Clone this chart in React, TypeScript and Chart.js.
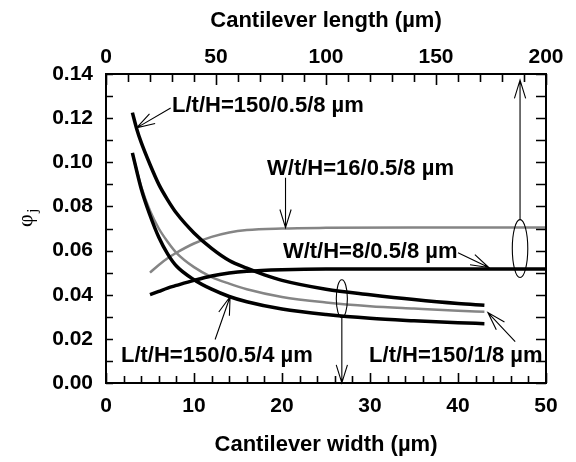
import React, { useEffect, useRef } from 'react';
import { Chart, registerables } from 'chart.js';
Chart.register(...registerables);

// ---- data (width axis, µm) ----
const widthA = [3, 3.5, 4, 5, 6, 7, 8, 10, 12, 14, 16, 18, 20, 25, 30, 35, 40, 43];
const phiA_150_05_8 = [0.1225, 0.115, 0.109, 0.099, 0.09, 0.083, 0.077, 0.068, 0.061, 0.0555, 0.052, 0.049, 0.0465, 0.0425, 0.04, 0.0378, 0.036, 0.0352];

const widthBC = [3, 4, 5, 6, 7, 8, 10, 12, 14, 16, 20, 25, 30, 35, 40, 43];
const phiB_150_05_4 = [0.1043, 0.088, 0.076, 0.066, 0.0585, 0.053, 0.0468, 0.0425, 0.0392, 0.0368, 0.0335, 0.031, 0.0293, 0.0282, 0.0273, 0.0269];
const phiC_150_1_8 = [0.104, 0.089, 0.078, 0.07, 0.064, 0.059, 0.0525, 0.048, 0.045, 0.0425, 0.039, 0.0365, 0.0348, 0.0337, 0.0327, 0.0323];

// ---- data (length axis, µm) ----
const lengthW = [20, 24, 28, 32, 40, 48, 56, 64, 80, 100, 140, 200];
const phiW16 = [0.05, 0.0535, 0.0565, 0.059, 0.0632, 0.0662, 0.0682, 0.0693, 0.07, 0.0703, 0.0705, 0.0705];
const phiW8 = [0.04, 0.0415, 0.043, 0.0442, 0.0465, 0.0485, 0.0498, 0.0506, 0.0513, 0.0516, 0.0516, 0.0516];

// ---- axes ----
const widthRange = [0, 50];
const lengthRange = [0, 200];
const phiRange = [0, 0.14];
const xTitle = 'Cantilever width (µm)';
const x2Title = 'Cantilever length (µm)';

// ---- annotations (in width / phi units) ----
const labelTexts = ['L/t/H=150/0.5/8 µm', 'W/t/H=16/0.5/8 µm', 'W/t/H=8/0.5/8 µm', 'L/t/H=150/0.5/4 µm', 'L/t/H=150/1/8 µm'];
const labelAnchors = [[7.5, 0.1229], [18.3, 0.0943], [20.1, 0.0568], [1.7, 0.0097], [29.9, 0.0097]];
const arrowLines = [
  [7.35, 0.1246, 3.48, 0.1156],
  [20.4, 0.093, 20.4, 0.0704],
  [40.0, 0.059, 43.5, 0.0523],
  [12.4, 0.0197, 14.1, 0.0391],
  [46.5, 0.0188, 43.4, 0.0319],
  [26.8, 0.0296, 26.8, 0.0],
  [47.05, 0.0739, 47.05, 0.1372],
];
const ellipses = [
  [26.8, 0.0382, 0.63, 0.0086],
  [47.05, 0.0609, 0.88, 0.0131],
];

const FONT = '"Liberation Sans", Arial, Helvetica, sans-serif';

function drawArrow(ctx: CanvasRenderingContext2D, x1: number, y1: number, x2: number, y2: number) {
  const head = 19;
  const ang = 0.3;
  const a = Math.atan2(y2 - y1, x2 - x1);
  ctx.beginPath();
  ctx.moveTo(x1, y1);
  ctx.lineTo(x2, y2);
  ctx.moveTo(x2 - head * Math.cos(a - ang), y2 - head * Math.sin(a - ang));
  ctx.lineTo(x2, y2);
  ctx.lineTo(x2 - head * Math.cos(a + ang), y2 - head * Math.sin(a + ang));
  ctx.stroke();
}

const framePlugin = {
  id: 'frame',
  afterDraw(chart: any) {
    const { ctx, chartArea: ca, scales } = chart;
    const xs = scales.x, x2s = scales.x2, ys = scales.y;
    ctx.save();
    ctx.strokeStyle = '#000';
    ctx.lineWidth = 1.6;
    // inward ticks
    ctx.beginPath();
    for (let w = widthRange[0]; w <= widthRange[1]; w += 2) {
      const px = Math.round(xs.getPixelForValue(w)) + 0.5;
      const len = w % 10 === 0 ? 10 : 7;
      ctx.moveTo(px, ca.bottom);
      ctx.lineTo(px, ca.bottom - len);
    }
    for (let L = lengthRange[0]; L <= lengthRange[1]; L += 10) {
      const px = Math.round(x2s.getPixelForValue(L)) + 0.5;
      const len = L % 50 === 0 ? 11 : 8;
      ctx.moveTo(px, ca.top);
      ctx.lineTo(px, ca.top + len);
    }
    for (let k = 0; k <= 14; k++) {
      const py = Math.round(ys.getPixelForValue(k * 0.01)) + 0.5;
      ctx.moveTo(ca.left, py);
      ctx.lineTo(ca.left + 7, py);
      ctx.moveTo(ca.right, py);
      ctx.lineTo(ca.right - 10, py);
    }
    ctx.stroke();
    // box
    ctx.lineWidth = 2;
    ctx.strokeRect(ca.left, ca.top, ca.right - ca.left, ca.bottom - ca.top);

    // annotations
    ctx.lineWidth = 1.1;
    arrowLines.forEach(([w1, v1, w2, v2]) => {
      drawArrow(ctx, xs.getPixelForValue(w1), ys.getPixelForValue(v1), xs.getPixelForValue(w2), ys.getPixelForValue(v2));
    });
    ellipses.forEach(([w, v, rw, rv]) => {
      const cx = xs.getPixelForValue(w);
      const cy = ys.getPixelForValue(v);
      const rx = Math.abs(xs.getPixelForValue(w + rw) - cx);
      const ry = Math.abs(ys.getPixelForValue(v + rv) - cy);
      ctx.beginPath();
      ctx.ellipse(cx, cy, rx, ry, 0, 0, Math.PI * 2);
      ctx.stroke();
    });
    ctx.fillStyle = '#000';
    ctx.font = `bold 22px ${FONT}`;
    ctx.textAlign = 'left';
    ctx.textBaseline = 'alphabetic';
    labelTexts.forEach((t, i) => {
      const [w, v] = labelAnchors[i];
      ctx.fillText(t, xs.getPixelForValue(w), ys.getPixelForValue(v));
    });

    // y-axis title phi_j
    ctx.translate(26, ys.getPixelForValue(0.0735));
    ctx.rotate(-Math.PI / 2);
    ctx.textAlign = 'center';
    ctx.textBaseline = 'middle';
    ctx.font = '22px "Liberation Serif", "DejaVu Serif", serif';
    ctx.fillText('φ', 0, 0);
    ctx.font = '15px "Liberation Serif", "DejaVu Serif", serif';
    ctx.fillText('j', 10, 7);
    ctx.restore();
  },
};

export default function App() {
  const ref = useRef<HTMLCanvasElement>(null);
  useEffect(() => {
    const canvas = ref.current!;
    const tickFont = { family: FONT, size: 21, weight: 'bold' as const };
    const titleFont = { family: FONT, size: 22, weight: 'bold' as const };
    const chart = new Chart(canvas, {
      type: 'scatter',
      data: {
        datasets: [
          {
            label: 'L/t/H=150/0.5/8',
            data: widthA.map((w, i) => ({ x: w, y: phiA_150_05_8[i] })),
            xAxisID: 'x', yAxisID: 'y', showLine: true, borderColor: '#000', borderWidth: 3.5,
            pointRadius: 0, cubicInterpolationMode: 'monotone',
          },
          {
            label: 'L/t/H=150/0.5/4',
            data: widthBC.map((w, i) => ({ x: w, y: phiB_150_05_4[i] })),
            xAxisID: 'x', yAxisID: 'y', showLine: true, borderColor: '#000', borderWidth: 3.5,
            pointRadius: 0, cubicInterpolationMode: 'monotone',
          },
          {
            label: 'W/t/H=8/0.5/8',
            data: lengthW.map((L, i) => ({ x: L, y: phiW8[i] })),
            xAxisID: 'x2', yAxisID: 'y', showLine: true, borderColor: '#000', borderWidth: 3.5,
            pointRadius: 0, cubicInterpolationMode: 'monotone',
          },
          {
            label: 'L/t/H=150/1/8',
            data: widthBC.map((w, i) => ({ x: w, y: phiC_150_1_8[i] })),
            xAxisID: 'x', yAxisID: 'y', showLine: true, borderColor: '#858585', borderWidth: 2.5,
            pointRadius: 0, cubicInterpolationMode: 'monotone',
          },
          {
            label: 'W/t/H=16/0.5/8',
            data: lengthW.map((L, i) => ({ x: L, y: phiW16[i] })),
            xAxisID: 'x2', yAxisID: 'y', showLine: true, borderColor: '#858585', borderWidth: 2.5,
            pointRadius: 0, cubicInterpolationMode: 'monotone',
          },
        ],
      },
      options: {
        responsive: false,
        animation: false,
        devicePixelRatio: 1,
        layout: { padding: { left: 0, right: 30, top: 0, bottom: 0 } },
        plugins: { legend: { display: false }, tooltip: { enabled: false } },
        scales: {
          x: {
            type: 'linear', position: 'bottom', min: widthRange[0], max: widthRange[1],
            ticks: { stepSize: 10, font: tickFont, color: '#000', padding: 11, maxRotation: 0, autoSkip: false },
            grid: { display: false, drawTicks: false },
            border: { display: false },
            title: { display: true, text: xTitle, font: titleFont, color: '#000', padding: { top: 0, bottom: 4 } },
            afterFit: (s: any) => { s.height = 79; },
          },
          x2: {
            type: 'linear', position: 'top', min: lengthRange[0], max: lengthRange[1],
            ticks: { stepSize: 50, font: tickFont, color: '#000', padding: 4, maxRotation: 0, autoSkip: false },
            grid: { display: false, drawTicks: false },
            border: { display: false },
            title: { display: true, text: x2Title, font: titleFont, color: '#000', padding: { top: 8, bottom: 0 } },
            afterFit: (s: any) => { s.height = 74; },
          },
          y: {
            type: 'linear', position: 'left', min: phiRange[0], max: phiRange[1],
            ticks: { stepSize: 0.02, font: tickFont, color: '#000', padding: 13, callback: (v: any) => Number(v).toFixed(2) },
            grid: { display: false, drawTicks: false },
            border: { display: false },
            afterFit: (s: any) => { s.width = 106; },
          },
        },
      },
      plugins: [framePlugin],
    } as any);
    return () => chart.destroy();
  }, []);
  return (
    <div style={{ position: 'absolute', left: 0, top: 0, width: 576, height: 462, background: '#fff' }}>
      <canvas ref={ref} width={576} height={462} style={{ width: 576, height: 462, display: 'block' }} />
    </div>
  );
}
